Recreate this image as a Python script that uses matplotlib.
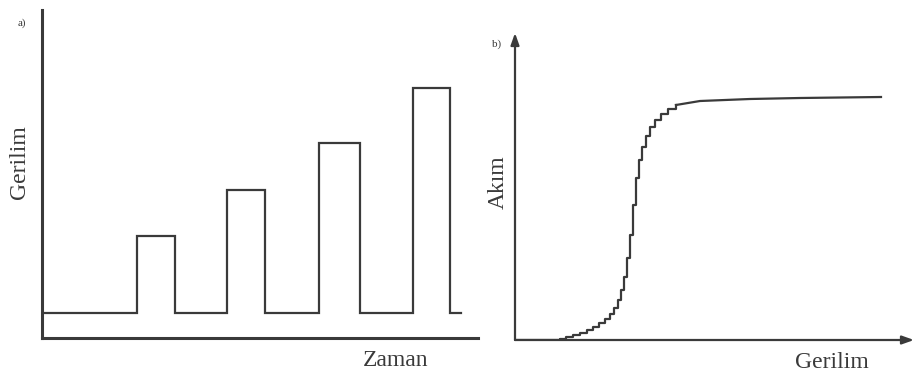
import matplotlib
matplotlib.use('Agg')
import matplotlib.pyplot as plt
import numpy as np

plt.rcParams['font.family'] = ['Liberation Serif', 'DejaVu Serif']

W, H = 914, 376

# a) voltage pulse train (time / voltage in picture units)
base_level = 25
pulse_start = [95, 185, 277, 371]
pulse_end = [133, 223, 318, 408]
pulse_level = [102, 148, 195, 250]
t_end = 419

# b) current vs voltage staircase (picture units)
volt = [0, 45, 51, 58, 65, 72, 78, 84, 90, 95, 99, 103, 106, 109, 112, 115,
        118, 121, 124, 127, 131, 135, 140, 146, 153, 161, 185, 235, 285, 366]
curr = [0, 1, 3, 5, 7, 10, 13, 17, 21, 26, 32, 40, 50, 63, 82, 105,
        135, 162, 180, 193, 204, 213, 220, 226, 231, 235, 239, 241, 242, 243]
n_steps = 26  # staircase part, the rest is a smooth plateau

ink = '#3a3a3a'


def px(x0, y0, x1, y1):
    # pixel box -> figure fraction rect
    return [x0 / W, 1 - y1 / H, (x1 - x0) / W, (y1 - y0) / H]


fig = plt.figure(figsize=(W / 100, H / 100), dpi=100)

# ---- panel a
ax1 = fig.add_axes(px(42, 10, 478, 338))
t = [0]
v = [base_level]
for s, e, lvl in zip(pulse_start, pulse_end, pulse_level):
    t += [s, s, e, e]
    v += [base_level, lvl, lvl, base_level]
t.append(t_end)
v.append(base_level)
ax1.plot(t, v, color=ink, lw=1.6, solid_joinstyle='miter')
ax1.set_xlim(0, 436)
ax1.set_ylim(0, 328)
for sp in ['top', 'right']:
    ax1.spines[sp].set_visible(False)
for sp in ['left', 'bottom']:
    ax1.spines[sp].set_linewidth(2.2)
    ax1.spines[sp].set_color(ink)
ax1.set_xticks([])
ax1.set_yticks([])
ax1.patch.set_alpha(0)

# ---- panel b
ax2 = fig.add_axes(px(515, 33, 914, 340))
ax2.plot(volt[:n_steps], curr[:n_steps], color=ink, lw=1.6, drawstyle='steps-post')
ax2.plot(volt[n_steps - 1:], curr[n_steps - 1:], color=ink, lw=1.6)
ax2.set_xlim(0, 399)
ax2.set_ylim(0, 307)
for sp in ax2.spines.values():
    sp.set_visible(False)
ax2.set_xticks([])
ax2.set_yticks([])
ax2.patch.set_alpha(0)
arrow = dict(arrowstyle='-|>,head_length=0.7,head_width=0.25', color=ink, lw=1.6,
             shrinkA=0, shrinkB=0)
ax2.annotate('', xy=(0, 1), xytext=(0, 0), xycoords='axes fraction', arrowprops=arrow)
ax2.annotate('', xy=(1, 0), xytext=(0, 0), xycoords='axes fraction', arrowprops=arrow)

# ---- labels
fs = 17
fig.text(20 / W, 1 - 162 / H, 'Gerilim', rotation=90, ha='center', va='center', fontsize=fs, color=ink)
fig.text(396 / W, 1 - 360 / H, 'Zaman', ha='center', va='center', fontsize=fs, color=ink)
fig.text(498 / W, 1 - 182 / H, 'Akım', rotation=90, ha='center', va='center', fontsize=fs, color=ink)
fig.text(832 / W, 1 - 363 / H, 'Gerilim', ha='center', va='center', fontsize=fs, color=ink)
fig.text(22 / W, 1 - 23 / H, 'a)', ha='center', va='center', fontsize=8, color=ink)
fig.text(497 / W, 1 - 44 / H, 'b)', ha='center', va='center', fontsize=8, color=ink)

fig.savefig('out.png', dpi=100)
